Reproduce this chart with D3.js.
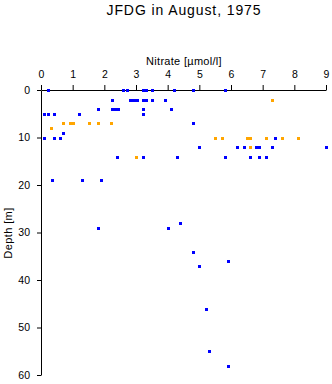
<!DOCTYPE html>
<html><head><meta charset="utf-8">
<script src="https://cdn.jsdelivr.net/npm/d3@7"></script>
<style>
html,body{margin:0;padding:0;background:#fff;}
svg{display:block;font-family:"Liberation Sans",Arial,sans-serif;}
</style></head>
<body>
<svg id="c" width="332" height="384"></svg>
<script>
const title = "JFDG in August, 1975";
const xLabel = "Nitrate [\u00b5mol/l]";
const yLabel = "Depth [m]";
const xTicks = [0,1,2,3,4,5,6,7,8,9];
const yTicks = [0,10,20,30,40,50,60];

// Blue series: nitrate and depth
const blueNitrate = [0.23,2.6,2.72,3.21,3.32,3.52,4.21,4.81,5.81,
  2.23,2.81,2.9,2.97,3.02,3.21,3.31,3.52,3.9,
  1.81,2.23,2.3,2.37,2.43,3.21,4.12,
  0.1,0.23,0.42,1.21,3.21,
  4.81,
  0.7,
  0.1,0.42,0.61,7.4,
  5.0,6.2,6.4,6.8,6.88,7.3,9.0,
  2.41,3.21,4.3,5.81,6.61,6.89,7.1,
  0.34,1.3,1.9,
  4.4,1.81,4.01,4.81,5.91,5.0,5.22,5.3,5.91];
const blueDepth = [0,0,0,0,0,0,0,0,0,
  2,2,2,2,2,2,2,2,2,
  4,4,4,4,4,4,4,
  5,5,5,5,5,
  7,
  9,
  10,10,10,10,
  12,12,12,12,12,12,12,
  14,14,14,14,14,14,14,
  19,19,19,
  28,29,29,34,36,37,46,55,58];

// Orange series
const orangeNitrate = [7.3,
  0.7,0.9,0.96,1.02,1.52,1.81,2.21,
  0.32,
  5.5,5.7,6.5,6.6,7.1,7.6,8.1,
  6.6,
  3.01];
const orangeDepth = [2,
  7,7,7,7,7,7,7,
  8,
  10,10,10,10,10,10,10,
  12,
  14];

const svg = d3.select("#c");
const x = d3.scaleLinear().domain([0,9]).range([41,326]);
const y = d3.scaleLinear().domain([0,60]).range([90,375]);

svg.append("text").attr("x",184).attr("y",15).attr("text-anchor","middle")
  .attr("font-size",14).attr("letter-spacing",0.9).text(title);

const xa = svg.append("g").attr("transform","translate(0,90)")
  .call(d3.axisTop(x).tickValues(xTicks).tickSize(5).tickSizeOuter(0).tickPadding(7).tickFormat(d3.format("d")));
const ya = svg.append("g").attr("transform","translate(41,0)")
  .call(d3.axisLeft(y).tickValues(yTicks).tickSize(4).tickSizeOuter(0).tickPadding(7).tickFormat(d3.format("d")));
[xa,ya].forEach(g=>{
  g.selectAll("text").attr("font-size",10.5).attr("font-family","Liberation Sans, Arial, sans-serif").attr("fill","#000");
  g.selectAll("line,path").attr("stroke","#000");
});

svg.append("text").attr("x",184).attr("y",65).attr("text-anchor","middle")
  .attr("font-size",11).attr("letter-spacing",0.3).text(xLabel);
svg.append("text").attr("transform","translate(12,233) rotate(-90)").attr("text-anchor","middle")
  .attr("font-size",11).attr("letter-spacing",0.4).text(yLabel);

function pts(xs, ys, color){
  svg.append("g").selectAll("rect").data(xs.map((v,i)=>[v,ys[i]])).join("rect")
    .attr("x",d=>Math.round(x(d[0]))-1).attr("y",d=>Math.round(y(d[1]))-1)
    .attr("width",3).attr("height",3).attr("fill",color);
}
pts(orangeNitrate, orangeDepth, "#ffa500");
pts(blueNitrate, blueDepth, "#0000ff");
</script>
</body></html>
